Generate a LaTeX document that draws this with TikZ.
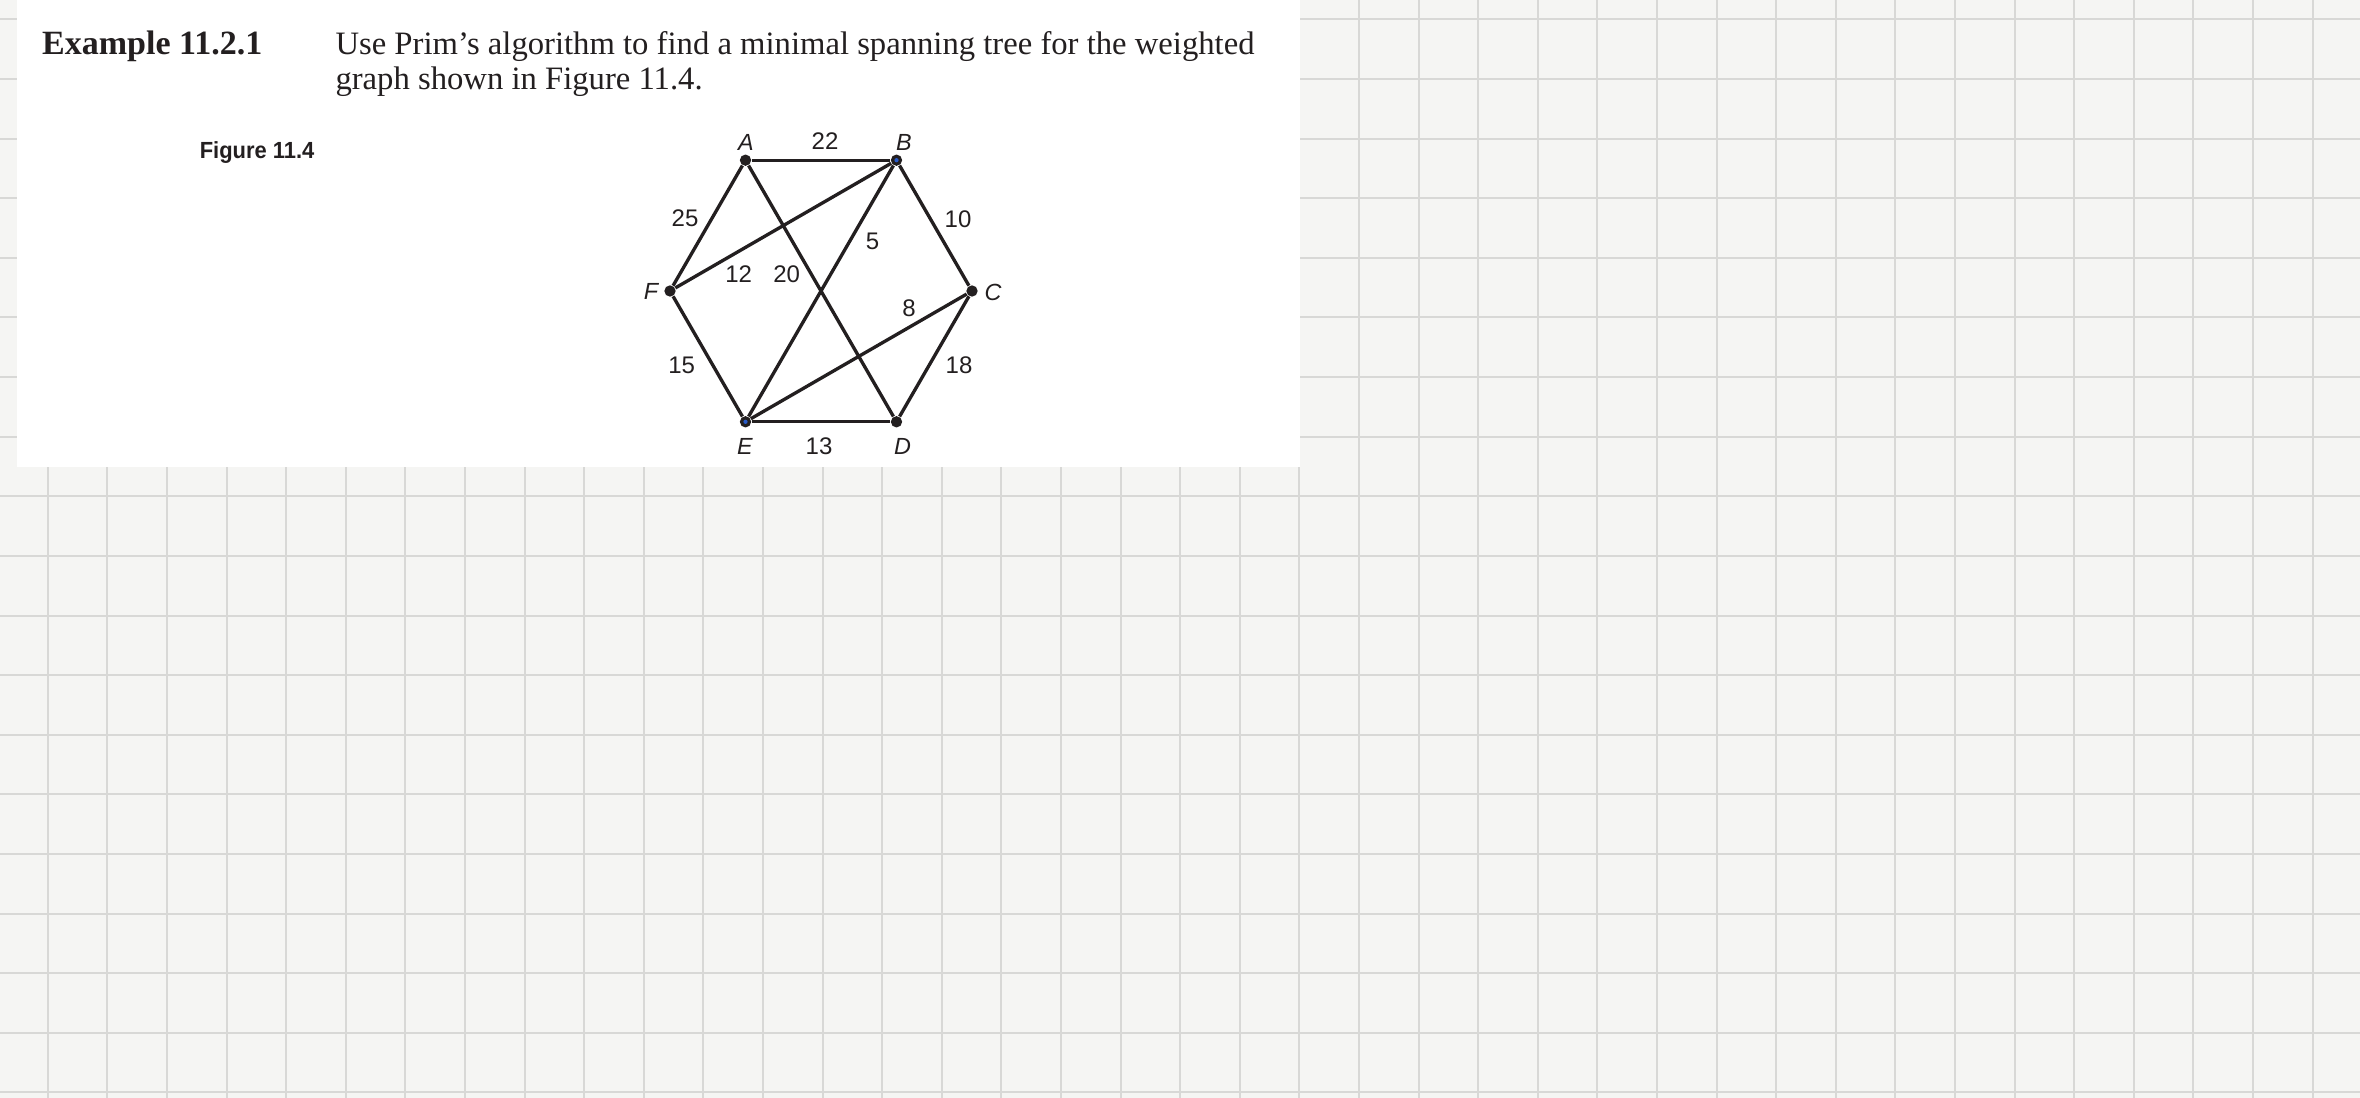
\documentclass[tikz,border=0pt]{standalone}
\usepackage{fontspec}
\setmainfont{Liberation Serif}
\newfontfamily\graphfont{Liberation Sans}
\newfontfamily\figfont[FakeStretch=0.94]{Liberation Sans}

\definecolor{ink}{RGB}{35,31,32}
\definecolor{paper}{RGB}{245,245,243}
\definecolor{gridgray}{RGB}{216,216,214}
\definecolor{dotblue}{RGB}{40,90,200}

\tikzset{every picture/.style={line width=0.75pt}}
\tikzset{
  gridline/.style={draw=gridgray, line width=1.5pt},
  vtx/.style={circle, fill=ink, inner sep=0pt, minimum size=8.5pt},
  vtxblue/.style={vtx, path picture={\fill[dotblue] (path picture bounding box.center) circle (1.6pt);}},
  edge/.style={draw=ink, line width=2.5pt},
  vlabel/.style={inner sep=0pt, text=ink, font=\graphfont\itshape\fontsize{17.5}{17.5}\selectfont},
  wlabel/.style={inner sep=0pt, text=ink, font=\graphfont\fontsize{18}{18}\selectfont},
}

\begin{document}
\begin{tikzpicture}[x=0.75pt,y=0.75pt,yscale=-1,xscale=1]
\useasboundingbox (0,0) rectangle (2360,1098);

% squared paper
\fill[paper] (0,0) rectangle (2360,1098);
\foreach \i in {0,...,38}
  \draw[gridline] ({47.7+59.6*\i},0) -- ({47.7+59.6*\i},1098);
\foreach \j in {0,...,18}
  \draw[gridline] (0,{19.5+59.6*\j}) -- (2360,{19.5+59.6*\j});

% pasted page
\fill[white] (16.7,0) rectangle (1300,466.7);

% Text Node
\node[anchor=base west, inner sep=0pt, text=ink, font=\bfseries\fontsize{25.5}{30}\selectfont] (exnum) at (41.7,55) {Example 11.2.1};
% Text Node
\node[anchor=base west, inner sep=0pt, text=ink, font=\fontsize{24.5}{30}\selectfont] (task1) at (335,55) {Use Prim’s algorithm to find a minimal spanning tree for the weighted};
% Text Node
\node[anchor=base west, inner sep=0pt, text=ink, font=\fontsize{24.5}{30}\selectfont] (task2) at (335,90) {graph shown in Figure 11.4.};
% Text Node
\node[anchor=base west, inner sep=0pt, text=ink, font=\figfont\bfseries\fontsize{17.5}{20}\selectfont] (figcap) at (199.3,158.3) {Figure 11.4};

% vertices
\node[vtx] (A) at (745.5,160.2) {};
\node[vtxblue] (B) at (896.5,160.2) {};
\node[vtx] (C) at (972,291) {};
\node[vtx] (D) at (896.5,421.8) {};
\node[vtxblue] (E) at (745.5,421.8) {};
\node[vtx] (F) at (670,291) {};

% edges
\draw[edge] (A) -- (B);
\draw[edge] (B) -- (C);
\draw[edge] (C) -- (D);
\draw[edge] (D) -- (E);
\draw[edge] (E) -- (F);
\draw[edge] (F) -- (A);
\draw[edge] (F) -- (B);
\draw[edge] (A) -- (D);
\draw[edge] (B) -- (E);
\draw[edge] (E) -- (C);

% vertex names
\node[vlabel] (nameA) at (746,142.5) {A};
\node[vlabel] (nameB) at (904,142.5) {B};
\node[vlabel] (nameC) at (993,292) {C};
\node[vlabel] (nameD) at (902.5,446.7) {D};
\node[vlabel] (nameE) at (745,446.7) {E};
\node[vlabel] (nameF) at (651,291.5) {F};

% weights
\node[wlabel] (wAB) at (825,141) {22};
\node[wlabel] (wBC) at (958,219) {10};
\node[wlabel] (wCD) at (959,365) {18};
\node[wlabel] (wDE) at (819,446.7) {13};
\node[wlabel] (wEF) at (681.7,365) {15};
\node[wlabel] (wFA) at (685,218) {25};
\node[wlabel] (wFB) at (738.7,274) {12};
\node[wlabel] (wAD) at (786.7,274) {20};
\node[wlabel] (wBE) at (872.5,241.5) {5};
\node[wlabel] (wEC) at (909,308) {8};

\end{tikzpicture}
\end{document}
